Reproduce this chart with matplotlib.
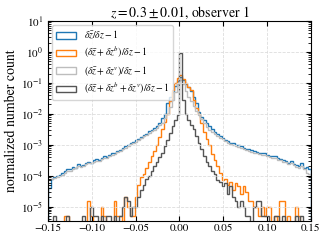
import matplotlib
matplotlib.use('Agg')
import matplotlib.pyplot as plt
from matplotlib.patches import Patch
import numpy as np

plt.rcParams['font.family'] = 'STIXGeneral'
plt.rcParams['mathtext.fontset'] = 'stix'

# bin edges of the histograms (100 bins between -0.15 and 0.15)
edges = np.linspace(-0.15, 0.15, 101)

# delta zbar / delta z - 1
blue = [4.0e-5, 7.9e-5, 8.9e-5, 1.0e-4, 1.05e-4, 1.2e-4, 1.4e-4, 1.66e-4, 1.58e-4, 1.9e-4,
        1.78e-4, 2.4e-4, 2.0e-4, 2.2e-4, 2.5e-4, 2.8e-4, 2.6e-4, 3.2e-4, 3.4e-4, 3.2e-4,
        3.8e-4, 4.2e-4, 4.0e-4, 4.7e-4, 5.2e-4, 5.6e-4, 6.3e-4, 6.9e-4, 7.6e-4, 8.9e-4,
        1.0e-3, 1.12e-3, 1.26e-3, 1.38e-3, 1.51e-3, 1.82e-3, 2.1e-3, 2.3e-3, 2.7e-3, 3.0e-3,
        3.5e-3, 4.0e-3, 5.0e-3, 7.1e-3, 1.0e-2, 2.2e-2, 3.5e-2, 5.0e-2, 7.9e-2, 0.112,
        0.151, 0.12, 8.9e-2, 7.1e-2, 5.6e-2, 3.5e-2, 2.2e-2, 1.12e-2, 7.9e-3, 6.3e-3,
        5.0e-3, 4.0e-3, 3.2e-3, 2.6e-3, 2.2e-3, 1.9e-3, 1.66e-3, 1.45e-3, 1.32e-3, 1.17e-3,
        1.1e-3, 1.0e-3, 9.5e-4, 8.9e-4, 7.9e-4, 7.4e-4, 7.1e-4, 6.6e-4, 6.3e-4, 5.9e-4,
        5.6e-4, 5.2e-4, 5.4e-4, 4.7e-4, 4.4e-4, 4.2e-4, 4.4e-4, 3.8e-4, 3.5e-4, 3.2e-4,
        3.0e-4, 2.6e-4, 2.95e-4, 2.4e-4, 2.2e-4, 2.0e-4, 2.6e-4, 1.78e-4, 1.86e-4, 1.58e-4]

# (delta zbar + delta z^b) / delta z - 1
orange = [0, 0, 0, 0, 0, 0, 5e-6, 5e-6, 0, 0,
          0, 0, 0, 0, 0, 1.5e-5, 5e-6, 0, 0, 0,
          1.0e-5, 5e-6, 0, 0, 0, 1.5e-5, 5e-6, 5e-6, 0, 2.0e-5,
          1.0e-5, 5e-6, 5e-6, 2.1e-5, 5.0e-5, 8.9e-5, 1.12e-4, 1.78e-4, 2.8e-4, 4.2e-4,
          6.3e-4, 1.0e-3, 1.78e-3, 3.2e-3, 5.6e-3, 1.0e-2, 2.5e-2, 5.9e-2, 0.1, 0.141,
          0.178, 0.132, 0.1, 7.6e-2, 5.9e-2, 2.8e-2, 1.58e-2, 1.0e-2, 5.0e-3, 2.5e-3,
          1.58e-3, 1.0e-3, 5.0e-4, 3.2e-4, 2.0e-4, 1.26e-4, 7.4e-5, 7.9e-5, 5.0e-5, 6.3e-5,
          3.5e-5, 5.6e-5, 4.5e-5, 2.5e-5, 4.5e-5, 3.0e-5, 1.5e-5, 1.5e-5, 1.0e-5, 1.0e-5,
          5e-6, 1.0e-5, 5e-6, 1.0e-5, 1.0e-5, 0, 5e-6, 0, 1.5e-5, 1.5e-5,
          0, 5e-6, 0, 0, 1.0e-5, 5e-6, 0, 0, 0, 0]

# (delta zbar + delta z^v) / delta z - 1
lightgrey = [7.9e-5, 7.6e-5, 8.3e-5, 8.9e-5, 9.5e-5, 1.07e-4, 1.26e-4, 1.41e-4, 1.45e-4, 1.66e-4,
             1.74e-4, 2.0e-4, 1.9e-4, 2.1e-4, 2.3e-4, 2.5e-4, 2.5e-4, 2.8e-4, 3.0e-4, 3.0e-4,
             3.5e-4, 3.7e-4, 3.8e-4, 4.3e-4, 4.8e-4, 5.1e-4, 5.8e-4, 6.3e-4, 7.1e-4, 7.9e-4,
             9.1e-4, 1.02e-3, 1.15e-3, 1.26e-3, 1.38e-3, 1.62e-3, 1.86e-3, 2.1e-3, 2.4e-3, 2.7e-3,
             3.0e-3, 3.5e-3, 4.2e-3, 5.2e-3, 7.1e-3, 1.0e-2, 1.6e-2, 2.8e-2, 5.0e-2, 8.9e-2,
             0.12, 8.9e-2, 5.6e-2, 3.5e-2, 2.5e-2, 1.8e-2, 1.26e-2, 8.9e-3, 6.6e-3, 5.0e-3,
             3.8e-3, 3.0e-3, 2.5e-3, 2.2e-3, 1.9e-3, 1.66e-3, 1.48e-3, 1.32e-3, 1.17e-3, 1.07e-3,
             9.8e-4, 8.9e-4, 8.5e-4, 7.9e-4, 7.2e-4, 6.8e-4, 6.3e-4, 6.0e-4, 5.6e-4, 5.2e-4,
             5.0e-4, 4.7e-4, 4.6e-4, 4.3e-4, 4.0e-4, 3.7e-4, 3.6e-4, 3.3e-4, 3.2e-4, 2.8e-4,
             2.75e-4, 2.4e-4, 2.5e-4, 2.2e-4, 1.9e-4, 1.78e-4, 2.0e-4, 1.58e-4, 1.2e-4, 1.1e-4]

# (delta zbar + delta z^b + delta z^v) / delta z - 1
darkgrey = [0, 0, 5e-6, 0, 0, 0, 0, 5e-6, 0, 0,
            0, 0, 0, 5e-6, 0, 0, 1.0e-5, 5e-6, 5e-6, 0,
            5e-6, 0, 5e-6, 5e-6, 0, 5e-6, 0, 5e-6, 1.0e-5, 2.0e-5,
            1.5e-5, 5e-6, 1.0e-5, 1.0e-5, 2.0e-5, 3.5e-5, 5.1e-5, 7.6e-5, 9.5e-5, 1.41e-4,
            2.0e-4, 2.8e-4, 4.0e-4, 5.4e-4, 8.9e-4, 1.45e-3, 2.4e-3, 4.0e-3, 6.3e-3, 8.9e-3,
            0.9, 2.8e-2, 1.0e-2, 6.3e-3, 4.5e-3, 3.2e-3, 1.9e-3, 1.12e-3, 7.1e-4, 4.2e-4,
            2.8e-4, 2.0e-4, 1.38e-4, 1.12e-4, 7.4e-5, 6.3e-5, 4.5e-5, 5.6e-5, 2.5e-5, 4.5e-5,
            2.0e-5, 1.5e-5, 1.0e-5, 1.5e-5, 1.0e-5, 5e-6, 5e-6, 0, 1.0e-5, 1.5e-5,
            1.5e-5, 5e-6, 5e-6, 5e-6, 0, 0, 5e-6, 5e-6, 0, 5e-6,
            0, 0, 0, 0, 5e-6, 0, 5e-6, 0, 0, 0]

labels = [r'$\delta\bar{z}/\delta z-1$',
          r'$(\delta\bar{z}+\delta z^b)/\delta z-1$',
          r'$(\delta\bar{z}+\delta z^v)/\delta z-1$',
          r'$(\delta\bar{z}+\delta z^b+\delta z^v)/\delta z-1$']
colors = ['#1f77b4', '#ff7f0e', '#bdbdbd', '#555555']

fig = plt.figure(figsize=(3.29, 2.47), dpi=100)
ax = fig.add_axes([0.146, 0.105, 0.799, 0.81])

handles = []
for vals, lab, col in zip([blue, orange, lightgrey, darkgrey], labels, colors):
    ax.stairs(vals, edges, color=col, lw=1.0)
    handles.append(Patch(facecolor='none', edgecolor=col, lw=1.0, label=lab))

ax.set_yscale('log')
ax.set_xlim(-0.15, 0.15)
ax.set_ylim(3.4e-6, 10)
ax.set_xticks([-0.15, -0.10, -0.05, 0.0, 0.05, 0.10, 0.15])
ax.tick_params(which='both', direction='in', top=True, right=True, labelsize=8)
ax.tick_params(axis='x', pad=2)
ax.grid(True, ls='--', color='#dddddd', lw=0.6)
ax.set_ylabel('normalized number count', fontsize=10, labelpad=2)
ax.set_title(r'$z=0.3\pm0.01$, observer 1', fontsize=10, pad=3)
ax.legend(handles=handles, loc='upper left', fontsize=7, handlelength=2.0,
          labelspacing=0.35, borderaxespad=0.45)

fig.savefig('out.png', dpi=100)
